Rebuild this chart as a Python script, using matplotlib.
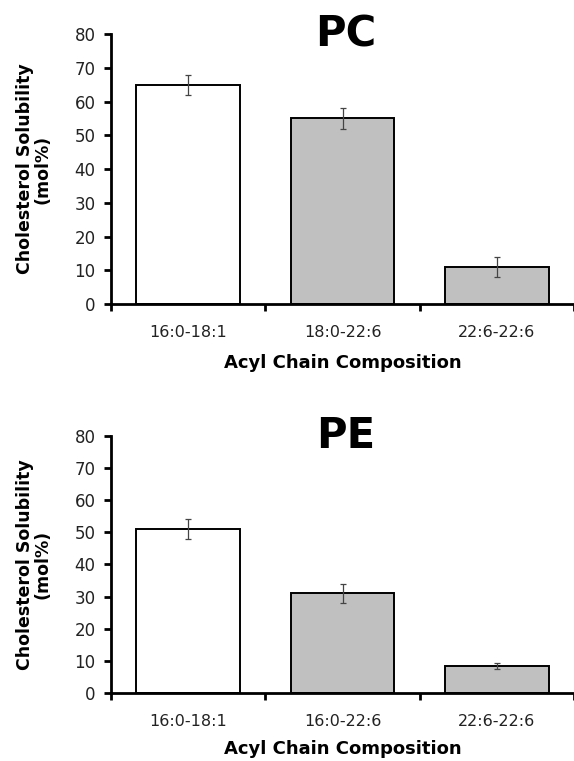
import matplotlib
matplotlib.use("Agg")
import matplotlib.pyplot as plt
import numpy as np

# values
pc_labels = ["16:0-18:1", "18:0-22:6", "22:6-22:6"]
pc_values = [65, 55, 11]
pc_errors = [3, 3, 3]

pe_labels = ["16:0-18:1", "16:0-22:6", "22:6-22:6"]
pe_values = [51, 31, 8.4]
pe_errors = [3, 3, 1]

bar_colors = ["white", "#c0c0c0", "#c0c0c0"]

plt.rcParams['font.family'] = ['DejaVu Sans']


def draw_panel(ax, title, labels, values, errors):
    x = np.arange(len(labels))
    ax.bar(x, values, width=0.67, color=bar_colors, edgecolor="black",
           linewidth=1.4, zorder=2)
    ax.errorbar(x, values, yerr=errors, fmt="none", ecolor="#444444",
                elinewidth=0.9, capsize=2.5, capthick=0.9, zorder=3)

    ax.set_xlim(-0.5, len(labels) - 0.5)
    ax.set_ylim(0, 80)
    ax.set_yticks(np.arange(0, 81, 10))
    ax.tick_params(axis='y', labelsize=12, length=5, width=2, pad=6,
                   labelcolor="#222222")

    # category labels centred, tick marks between categories
    ax.set_xticks(x)
    ax.set_xticklabels(labels, fontsize=11.5, color="#222222")
    ax.tick_params(axis='x', which='major', length=0, pad=15)
    ax.set_xticks(np.arange(-0.5, len(labels)), minor=True)
    ax.tick_params(axis='x', which='minor', length=5, width=2)

    for side in ["top", "right"]:
        ax.spines[side].set_visible(False)
    for side in ["left", "bottom"]:
        ax.spines[side].set_linewidth(2)
    ax.spines["left"].set_zorder(4)

    ax.set_xlabel("Acyl Chain Composition", fontsize=13, fontweight="bold")
    ax.xaxis.set_label_coords(0.5, -0.184)
    ax.set_ylabel("Cholesterol Solubility\n(mol%)", fontsize=12.5,
                  fontweight="bold", linespacing=1.0)
    ax.yaxis.set_label_coords(-0.128, 0.5)
    ax.text(1.02, 80, title, fontsize=30, fontweight="bold",
            ha="center", va="center", clip_on=False)


fig = plt.figure(figsize=(5.74, 7.61), dpi=100)
ax1 = fig.add_axes([0.1934, 0.6005, 0.8066, 0.3548])
ax2 = fig.add_axes([0.1934, 0.0894, 0.8066, 0.3377])

draw_panel(ax1, "PC", pc_labels, pc_values, pc_errors)
draw_panel(ax2, "PE", pe_labels, pe_values, pe_errors)

fig.savefig("out.png", dpi=100)
